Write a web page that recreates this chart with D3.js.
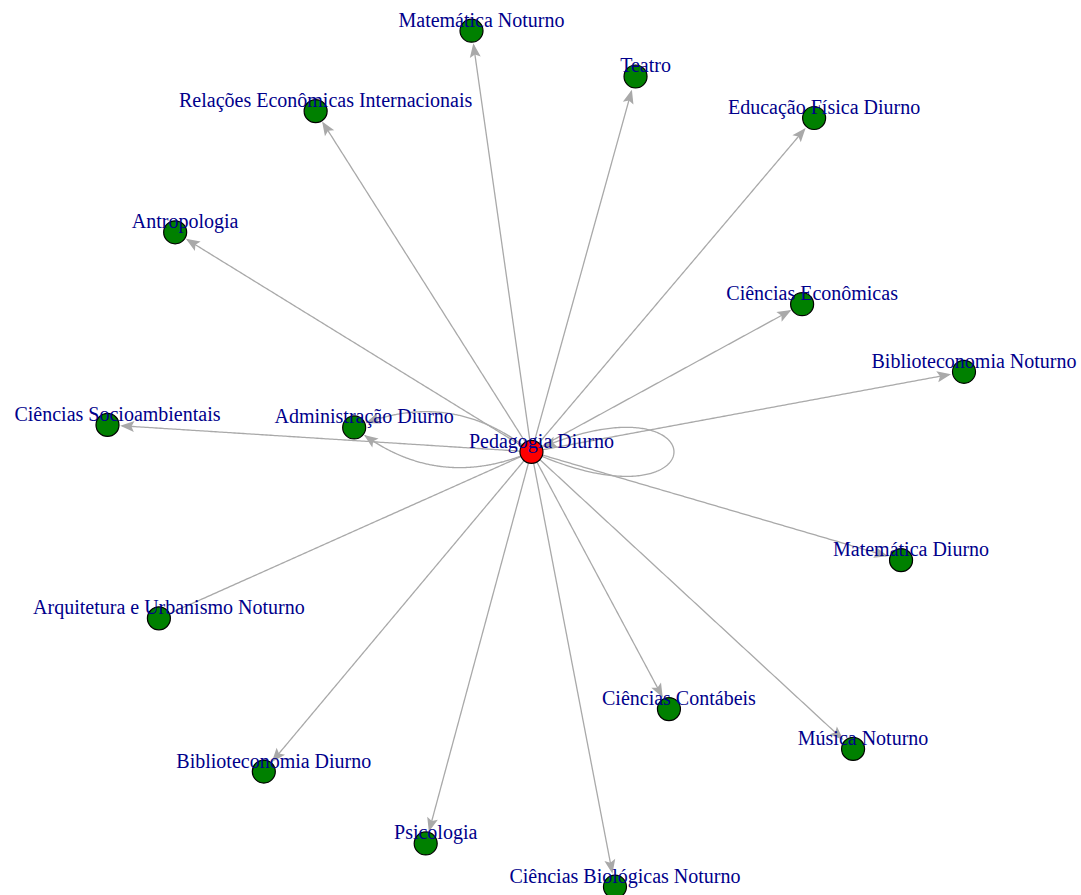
<!DOCTYPE html>
<html><head><meta charset="utf-8">
<script src="https://cdn.jsdelivr.net/npm/d3@7"></script>
<style>html,body{margin:0;padding:0;background:#fff;}svg{display:block;}</style>
</head><body>
<svg id="chart" width="1081" height="895"></svg>
<script>
// ---- data ----
const nodeNames = ["Pedagogia Diurno","Matemática Noturno","Teatro","Relações Econômicas Internacionais","Educação Física Diurno","Antropologia","Ciências Econômicas","Biblioteconomia Noturno","Ciências Socioambientais","Administração Diurno","Matemática Diurno","Arquitetura e Urbanismo Noturno","Ciências Contábeis","Música Noturno","Biblioteconomia Diurno","Psicologia","Ciências Biológicas Noturno"];
const layoutX = [-0.010,-0.150,0.233,-0.514,0.650,-0.842,0.622,1.000,-1.000,-0.424,0.853,-0.880,0.311,0.741,-0.635,-0.257,0.185];
const layoutY = [0.016,1.000,0.893,0.812,0.796,0.529,0.361,0.203,0.079,0.073,-0.237,-0.373,-0.585,-0.678,-0.731,-0.899,-1.000];
const nodeColors = ["red","green","green","green","green","green","green","green","green","green","green","green","green","green","green","green","green"];
const edgeFrom = [0,0,0,0,0,0,0,0,0,0,11,0,0,0,0,0,0,0];
const edgeTo   = [1,2,3,4,5,6,7,8,9,10,0,12,13,14,15,16,9,0];
const edgeCurve= [0,0,0,0,0,0,0,0,-0.3,0,0,0,0,0,0,0,0.3,0];
const edgeArrow= [1,1,1,1,1,1,1,1,1,1,0,1,1,1,1,1,1,1];

// ---- drawing ----
const svg = d3.select("#chart");
const x = d3.scaleLinear().domain([-1,1]).range([107.5,964]);
const y = d3.scaleLinear().domain([-1,1]).range([886.7,30.7]);
const R = 11.5;
const nodes = nodeNames.map((n,i)=>({name:n,x:x(layoutX[i]),y:y(layoutY[i]),color:nodeColors[i]}));
const edgeColor = "#A9A9A9";
const gE = svg.append("g"), gA = svg.append("g"), gN = svg.append("g"), gL = svg.append("g");

function arrowAt(px,py,ang){
  const L=14, W=5.5;
  const c=Math.cos(ang), s=Math.sin(ang);
  const pts=[[0,0],[-L,-W],[-L*0.8,0],[-L,W]].map(([a,b])=>[px+a*c-b*s, py+a*s+b*c]);
  gA.append("path").attr("d","M"+pts.map(p=>p.join(",")).join("L")+"Z").attr("fill",edgeColor).attr("stroke","none");
}

edgeFrom.forEach((f,i)=>{
  const s=nodes[f], t=nodes[edgeTo[i]];
  let pts=[];
  if(f===edgeTo[i]){
    // self loop (cubic)
    const c1=[s.x+190,s.y+85], c2=[s.x+190,s.y-85];
    for(let k=0;k<=200;k++){const u=k/200,v=1-u;
      pts.push([v*v*v*s.x+3*v*v*u*c1[0]+3*v*u*u*c2[0]+u*u*u*s.x, v*v*v*s.y+3*v*v*u*c1[1]+3*v*u*u*c2[1]+u*u*u*s.y]);}
  } else {
    const dx=t.x-s.x, dy=t.y-s.y;
    const cx=(s.x+t.x)/2 + edgeCurve[i]*(-dy), cy=(s.y+t.y)/2 + edgeCurve[i]*dx;
    for(let k=0;k<=200;k++){const u=k/200,v=1-u;
      pts.push([v*v*s.x+2*v*u*cx+u*u*t.x, v*v*s.y+2*v*u*cy+u*u*t.y]);}
  }
  let end=pts.length-1;
  if(edgeArrow[i]){
    while(end>0 && Math.hypot(pts[end][0]-t.x,pts[end][1]-t.y)<R+0.5) end--;
  }
  const tip=pts[end];
  let back=end; while(back>0 && Math.hypot(pts[back][0]-tip[0],pts[back][1]-tip[1])<6) back--;
  const ang=Math.atan2(tip[1]-pts[back][1], tip[0]-pts[back][0]);
  const linePts = edgeArrow[i] ? pts.slice(0,end+1) : pts;
  if(edgeArrow[i]){ linePts[linePts.length-1]=[tip[0]-10*Math.cos(ang), tip[1]-10*Math.sin(ang)]; }
  gE.append("path").attr("d",d3.line()(linePts)).attr("fill","none").attr("stroke",edgeColor).attr("stroke-width",1.3);
  if(edgeArrow[i]) arrowAt(tip[0],tip[1],ang);
});

gN.selectAll("circle").data(nodes).join("circle")
  .attr("cx",d=>d.x).attr("cy",d=>d.y).attr("r",R)
  .attr("fill",d=>d.color).attr("stroke","#000").attr("stroke-width",1.2);

gL.selectAll("text").data(nodes).join("text")
  .attr("x",d=>d.x+10).attr("y",d=>d.y-4)
  .attr("text-anchor","middle")
  .attr("font-family","'Liberation Serif','Times New Roman',serif")
  .attr("font-size",20).attr("fill","#00008B")
  .text(d=>d.name);
</script>
</body></html>
